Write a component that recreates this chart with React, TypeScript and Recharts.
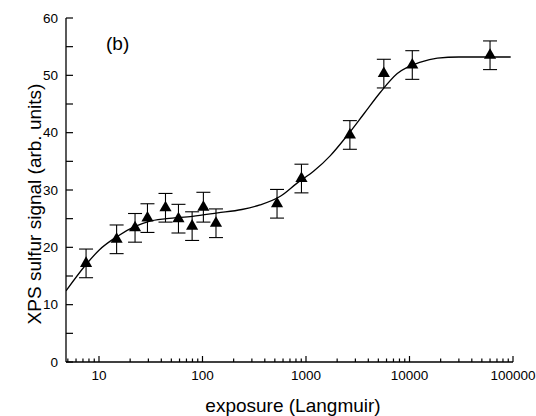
import React from 'react';
import { ScatterChart, Scatter, XAxis, YAxis, ZAxis, ErrorBar } from 'recharts';

// measured points
const exposure = [7.5, 14.8, 22.3, 29.4, 43.9, 58.6, 79.4, 102, 135, 525, 904, 2655, 5650, 10640, 60000];
const signal = [17.2, 21.4, 23.4, 25.1, 26.9, 25.0, 23.7, 27.0, 24.2, 27.6, 32.0, 39.6, 50.3, 51.8, 53.5];
const errors = [2.5, 2.5, 2.5, 2.5, 2.5, 2.5, 2.5, 2.6, 2.5, 2.5, 2.5, 2.5, 2.5, 2.5, 2.5];

// fitted curve
const fitExposure = [4.8, 7.5, 10, 15, 22, 30, 45, 80, 140, 240, 360, 565, 820, 1190, 1720, 2500, 3630, 5260, 7620, 12800, 18600, 30000, 60000, 95000];
const fitSignal = [12.4, 17.0, 19.5, 21.9, 23.6, 24.5, 25.0, 25.4, 26.0, 26.6, 27.4, 28.9, 31.2, 33.3, 36.0, 39.5, 43.3, 47.1, 50.3, 52.3, 53.0, 53.2, 53.2, 53.2];

const xTicks = [5, 6, 7, 8, 9, 10, 20, 30, 40, 50, 60, 70, 80, 90, 100, 200, 300, 400, 500, 600, 700, 800, 900,
  1000, 2000, 3000, 4000, 5000, 6000, 7000, 8000, 9000, 10000, 20000, 30000, 40000, 50000, 60000, 70000, 80000, 90000, 100000];
const xLabels = [10, 100, 1000, 10000, 100000];
const yTicks = [0, 5, 10, 15, 20, 25, 30, 35, 40, 45, 50, 55, 60];

const points = exposure.map((x, i) => ({ x, y: signal[i], err: errors[i] }));
const fit = fitExposure.map((x, i) => ({ x, y: fitSignal[i] }));

const FONT = '"Liberation Sans", Arial, Helvetica, sans-serif';

const YTick = ({ x, y, payload }: any) => (
  <g>
    <line x1={x} y1={y} x2={x + 7} y2={y} stroke="#000" strokeWidth={1.2} />
    {payload.value % 10 === 0 && (
      <text x={x - 8} y={y + 4.8} textAnchor="end" fontSize={13.5} fill="#000" fontFamily={FONT}>{payload.value}</text>
    )}
  </g>
);

const XTick = ({ x, y, payload }: any) => {
  const major = xLabels.includes(payload.value);
  return (
    <g>
      <line x1={x} y1={y} x2={x} y2={y - (major ? 6 : 3.5)} stroke="#000" strokeWidth={1.2} />
      {major && (
        <text x={x} y={y + 18} textAnchor="middle" fontSize={13.5} fill="#000" fontFamily={FONT}>{payload.value}</text>
      )}
    </g>
  );
};

export default function App() {
  return (
    <div style={{ position: 'absolute', left: 0, top: 0, width: 536, height: 416, background: '#fff' }}>
      <ScatterChart width={536} height={416} margin={{ top: 18, right: 23, bottom: 14, left: 16 }}>
        <XAxis dataKey="x" type="number" scale="log" domain={[4.8, 100000]} allowDataOverflow ticks={xTicks}
          interval={0} height={40} tickSize={0} tickMargin={0} tickLine={false} tick={<XTick />}
          axisLine={{ stroke: '#000', strokeWidth: 1.3 }} />
        <YAxis dataKey="y" type="number" domain={[0, 60]} allowDataOverflow ticks={yTicks}
          interval={0} width={50} tickSize={0} tickMargin={0} tickLine={false} tick={<YTick />}
          axisLine={{ stroke: '#000', strokeWidth: 1.3 }} />
        <ZAxis range={[42, 42]} />
        <Scatter data={fit} fill="#000" line={{ stroke: '#000', strokeWidth: 1.3 }} lineType="joint"
          lineJointType="monotoneX" shape={() => <g />} isAnimationActive={false} />
        <Scatter data={points} fill="#000" shape="triangle" isAnimationActive={false}>
          <ErrorBar dataKey="err" direction="y" width={7} stroke="#000" strokeWidth={1.1} isAnimationActive={false} />
        </Scatter>
      </ScatterChart>
      <svg width={536} height={416} style={{ position: 'absolute', left: 0, top: 0, pointerEvents: 'none' }}>
        <text x={106} y={49.5} fontSize={19} fontFamily={FONT} fill="#000">(b)</text>
        <text x={293} y={412} fontSize={19} fontFamily={FONT} fill="#000" textAnchor="middle">exposure (Langmuir)</text>
        <text x={41} y={204} fontSize={19} fontFamily={FONT} fill="#000" textAnchor="middle"
          transform="rotate(-90 41 204)">XPS sulfur signal (arb. units)</text>
      </svg>
    </div>
  );
}
